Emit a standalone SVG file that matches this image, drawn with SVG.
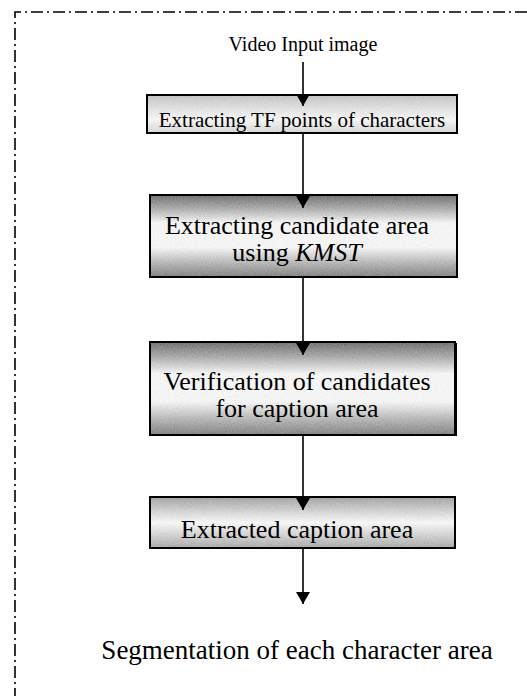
<svg xmlns="http://www.w3.org/2000/svg" width="527" height="696" viewBox="0 0 527 696">
  <style>
    .frame { fill: none; stroke: #000; stroke-width: 1.6; stroke-dasharray: 12 4 2 4; }
    .edge { fill: none; stroke: #000; stroke-width: 2; }
    .label { font-family: "Liberation Serif", "Times New Roman", serif; fill: #000; text-anchor: middle; }
    .small { font-size: 20px; }
    .big { font-size: 26px; }
    .flow { stroke: #000; stroke-width: 1.6; fill: none; marker-end: url(#head); }
  </style>
  <defs>
    <marker id="head" viewBox="0 0 12 14" refX="12" refY="7" markerWidth="12" markerHeight="14" markerUnits="userSpaceOnUse" orient="auto">
      <path d="M0,0 L12,7 L0,14 Z" fill="#000"/>
    </marker>
    <linearGradient id="lightFill" x1="0" y1="0" x2="0" y2="1">
      <stop offset="0" stop-color="#c4c4c4"/>
      <stop offset="0.4" stop-color="#e4e4e4"/>
      <stop offset="0.65" stop-color="#f4f4f4"/>
      <stop offset="1" stop-color="#d6d6d6"/>
    </linearGradient>
    <linearGradient id="darkFill" x1="0" y1="0" x2="0" y2="1">
      <stop offset="0" stop-color="#747474"/>
      <stop offset="0.16" stop-color="#acacac"/>
      <stop offset="0.34" stop-color="#f4f4f4"/>
      <stop offset="0.64" stop-color="#f4f4f4"/>
      <stop offset="0.84" stop-color="#b4b4b4"/>
      <stop offset="1" stop-color="#868686"/>
    </linearGradient>
    <linearGradient id="midFill" x1="0" y1="0" x2="0" y2="1">
      <stop offset="0" stop-color="#a4a4a4"/>
      <stop offset="0.3" stop-color="#d6d6d6"/>
      <stop offset="0.5" stop-color="#f6f6f6"/>
      <stop offset="0.72" stop-color="#d6d6d6"/>
      <stop offset="1" stop-color="#acacac"/>
    </linearGradient>
    <!-- speckled print texture for the box fills -->
    <filter id="grain" x="0" y="0" width="100%" height="100%">
      <feTurbulence type="fractalNoise" baseFrequency="1.1" numOctaves="1" seed="5" result="n"/>
      <feColorMatrix in="n" type="matrix" values="0.33 0.33 0.33 0 0  0.33 0.33 0.33 0 0  0.33 0.33 0.33 0 0  0 0 0 0 1" result="g"/>
      <feComposite in="SourceGraphic" in2="g" operator="arithmetic" k1="0" k2="1" k3="0.4" k4="-0.2" result="mix"/>
      <feComposite in="mix" in2="SourceAlpha" operator="in"/>
    </filter>
  </defs>

  <!-- dash-dot outer frame (top and left edges) -->
  <path class="frame" d="M527,12 L15,12 L15,696"/>

  <g id="start">
    <text class="label small" x="303" y="51">Video Input image</text>
  </g>

  <g id="tf-points">
    <rect x="147" y="95" width="310" height="38" fill="url(#lightFill)" filter="url(#grain)"/>
    <rect class="edge" x="147" y="95" width="310" height="38"/>
    <text class="label" font-size="21" x="302" y="127">Extracting TF points of characters</text>
  </g>

  <g id="candidate-area">
    <rect x="150" y="195" width="307" height="82" fill="url(#darkFill)" filter="url(#grain)"/>
    <rect class="edge" x="150" y="195" width="307" height="82"/>
    <text class="label big" x="297" y="234">Extracting candidate area</text>
    <text class="label big" x="297" y="261">using <tspan font-style="italic">KMST</tspan></text>
  </g>

  <g id="verification">
    <rect x="150" y="342" width="305" height="93" fill="url(#darkFill)" filter="url(#grain)"/>
    <rect class="edge" x="150" y="342" width="305" height="93"/>
    <line class="edge" x1="456" y1="343" x2="456" y2="436"/>
    <text class="label big" x="297" y="390">Verification of candidates</text>
    <text class="label big" x="297" y="417">for caption area</text>
  </g>

  <g id="caption-area">
    <rect x="150" y="497" width="305" height="51" fill="url(#midFill)" filter="url(#grain)"/>
    <rect class="edge" x="150" y="497" width="305" height="51"/>
    <text class="label big" x="297" y="538">Extracted caption area</text>
  </g>

  <g id="segmentation">
    <text class="label" font-size="27" x="297" y="659">Segmentation of each character area</text>
  </g>

  <g id="connectors">
    <line class="flow" x1="303" y1="62" x2="303" y2="106"/>
    <line class="flow" x1="303" y1="133" x2="303" y2="208"/>
    <line class="flow" x1="303" y1="277" x2="303" y2="355"/>
    <line class="flow" x1="303" y1="435" x2="303" y2="510"/>
    <line class="flow" x1="303" y1="548" x2="303" y2="604"/>
  </g>
</svg>
